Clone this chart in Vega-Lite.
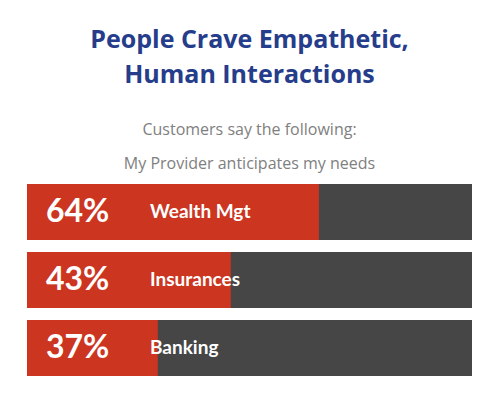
{
  "$schema": "https://vega.github.io/schema/vega-lite/v6.json",
  "autosize": "none",
  "width": 445,
  "height": 192,
  "padding": {"left": 27, "top": 184, "right": 28, "bottom": 22},
  "background": "white",
  "title": {
    "text": ["People Crave Empathetic,", "Human Interactions"],
    "subtitle": ["Customers say the following:", "My Provider anticipates my needs"],
    "anchor": "middle",
    "font": "Open Sans",
    "fontSize": 25,
    "fontWeight": "bold",
    "color": "#253d8a",
    "lineHeight": 35,
    "subtitleFont": "Open Sans",
    "subtitleFontSize": 16,
    "subtitleColor": "#808080",
    "subtitleLineHeight": 34,
    "subtitlePadding": 34,
    "offset": 12
  },
  "data": {
    "values": [
      {"category": "Wealth Mgt", "label": "64%", "bar": 65.6},
      {"category": "Insurances", "label": "43%", "bar": 45.8},
      {"category": "Banking", "label": "37%", "bar": 29.4}
    ]
  },
  "encoding": {
    "y": {
      "field": "category",
      "type": "nominal",
      "sort": null,
      "axis": null,
      "scale": {"paddingInner": 0.176, "paddingOuter": 0}
    }
  },
  "layer": [
    {
      "mark": {"type": "bar", "color": "#464646"},
      "encoding": {
        "x": {"datum": 0, "type": "quantitative", "scale": {"domain": [0, 100], "nice": false}, "axis": null},
        "x2": {"datum": 100}
      }
    },
    {
      "mark": {"type": "bar", "color": "#cc3520"},
      "encoding": {
        "x": {"field": "bar", "type": "quantitative"}
      }
    },
    {
      "mark": {"type": "text", "align": "left", "baseline": "middle", "dx": 19, "font": "Lato", "fontSize": 32, "fontWeight": "bold", "color": "white"},
      "encoding": {
        "x": {"datum": 0, "type": "quantitative"},
        "text": {"field": "label"}
      }
    },
    {
      "mark": {"type": "text", "align": "left", "baseline": "middle", "dx": 123, "font": "Lato", "fontSize": 19, "fontWeight": "bold", "color": "white"},
      "encoding": {
        "x": {"datum": 0, "type": "quantitative"},
        "text": {"field": "category"}
      }
    }
  ],
  "config": {"view": {"stroke": null}}
}
